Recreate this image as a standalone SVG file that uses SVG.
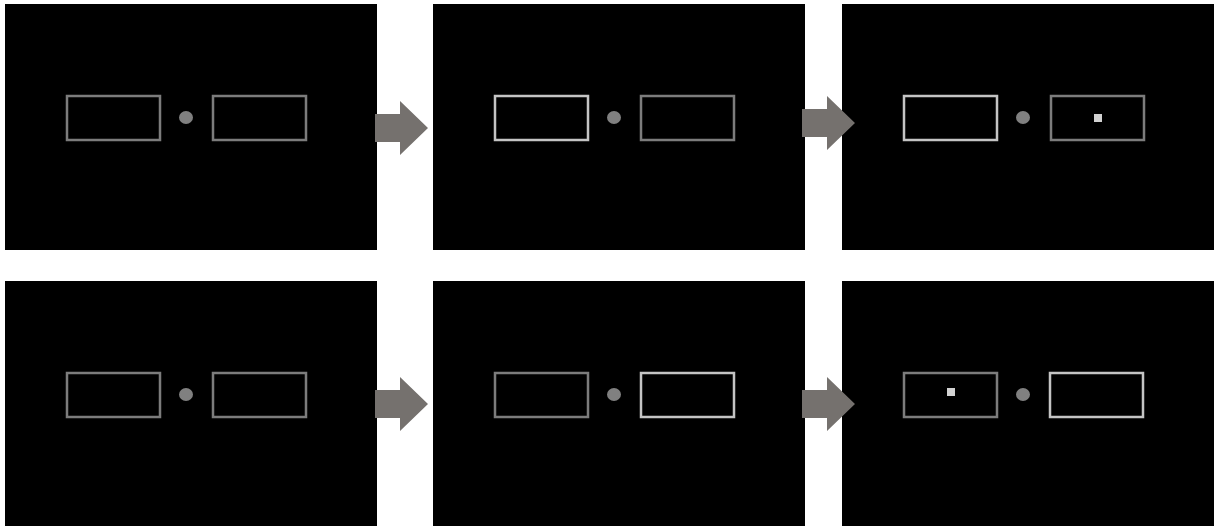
<svg xmlns="http://www.w3.org/2000/svg" width="1216" height="526" viewBox="0 0 1216 526">
<defs>
<style>
.panel{fill:#000}
.dim{fill:none;stroke:#7c7c7c;stroke-width:2.5}
.bright{fill:none;stroke:#c4c4c4;stroke-width:2.5}
.dot{fill:#808080}
.probe{fill:#d2d2d2}
.arrow{fill:#75716e}
</style>
<g id="frame">
<rect class="panel" x="0" y="0" width="372" height="246"/>
<ellipse class="dot" cx="181" cy="113.5" rx="7" ry="6.5"/>
</g>
<polygon id="arrowShape" class="arrow" points="0,13 25,13 25,0 53,27 25,54 25,41 0,41"/>
</defs>
<rect width="1216" height="526" fill="#fff"/>
<g id="panel-1-1" transform="translate(5,4)">
<use href="#frame"/>
<rect class="dim" x="62" y="92" width="93" height="44"/>
<rect class="dim" x="208" y="92" width="93" height="44"/>
</g>
<g id="panel-1-2" transform="translate(433,4)">
<use href="#frame"/>
<rect class="bright" x="62" y="92" width="93" height="44"/>
<rect class="dim" x="208" y="92" width="93" height="44"/>
</g>
<g id="panel-1-3" transform="translate(842,4)">
<use href="#frame"/>
<rect class="bright" x="62" y="92" width="93" height="44"/>
<rect class="dim" x="209" y="92" width="93" height="44"/>
<rect class="probe" x="252" y="110" width="8" height="8"/>
</g>
<g id="panel-2-1" transform="translate(5,281)">
<use href="#frame"/>
<rect class="dim" x="62" y="92" width="93" height="44"/>
<rect class="dim" x="208" y="92" width="93" height="44"/>
</g>
<g id="panel-2-2" transform="translate(433,281)">
<use href="#frame"/>
<rect class="dim" x="62" y="92" width="93" height="44"/>
<rect class="bright" x="208" y="92" width="93" height="44"/>
</g>
<g id="panel-2-3" transform="translate(842,281)">
<use href="#frame"/>
<rect class="dim" x="62" y="92" width="93" height="44"/>
<rect class="bright" x="208" y="92" width="93" height="44"/>
<rect class="probe" x="105" y="107" width="8" height="8"/>
</g>
<g id="connectors">
<use href="#arrowShape" x="375" y="101"/>
<use href="#arrowShape" x="802" y="96"/>
<use href="#arrowShape" x="375" y="377"/>
<use href="#arrowShape" x="802" y="377"/>
</g>
</svg>
